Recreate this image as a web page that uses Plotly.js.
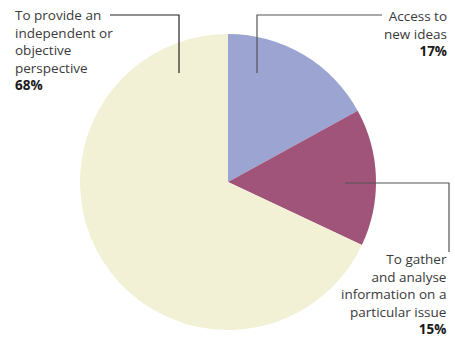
<!DOCTYPE html>
<html>
<head>
<meta charset="utf-8">
<script src="https://cdn.plot.ly/plotly-3.0.1.min.js"></script>
<style>html,body{margin:0;padding:0;background:#fff;}#chart{width:455px;height:339px;}</style>
</head>
<body>
<div id="chart"></div>
<script>
const categories = ["Access to new ideas", "To gather and analyse information on a particular issue", "To provide an independent or objective perspective"];
const values = [17, 15, 68];
const colors = ["#9ca4d2", "#a05479", "#f3f1d5"];
const labelLines = [
  ["Access to", "new ideas"],
  ["To gather", "and analyse", "information on a", "particular issue"],
  ["To provide an", "independent or", "objective", "perspective"]
];
const percentLabels = ["17%", "15%", "68%"];

const W = 455, H = 339;
const px = x => x / W;
const py = y => 1 - y / H;
const cx = 228, cy = 182, r = 148;

const trace = {
  type: "pie",
  labels: categories,
  values: values,
  sort: false,
  direction: "clockwise",
  rotation: 0,
  textinfo: "none",
  hoverinfo: "label+percent",
  marker: {colors: colors, line: {width: 0}},
  domain: {x: [px(cx - r), px(cx + r)], y: [py(cy + r), py(cy - r)]},
  showlegend: false
};

const font = {family: "Open Sans, Noto Sans, sans-serif", size: 13.5, color: "#3a3a3a"};

// block placement: x anchor px, vertical middle px
const blocks = [
  {x: 448, ym: 33, anchor: "right"},
  {x: 448, ym: 294, anchor: "right"},
  {x: 14, ym: 50, anchor: "left"}
];

const annotations = labelLines.map((lines, i) => ({
  xref: "paper", yref: "paper",
  x: px(blocks[i].x), y: py(blocks[i].ym),
  xanchor: blocks[i].anchor, yanchor: "middle", align: blocks[i].anchor,
  showarrow: false, borderpad: 0, font: font,
  text: lines.join("<br>") + "<br><b><span style='color:#1a1a1a'>" + percentLabels[i] + "</span></b>"
}));

const layout = {
  width: W, height: H,
  margin: {l: 0, r: 0, t: 0, b: 0},
  paper_bgcolor: "#ffffff",
  showlegend: false,
  font: font,
  annotations: annotations,
  shapes: [
    {type: "path", xref: "paper", yref: "paper", path: `M ${px(110)} ${py(15)} L ${px(179)} ${py(15)} L ${px(179)} ${py(73)}`, line: {color: "#222", width: 1.2}},
    {type: "path", xref: "paper", yref: "paper", path: `M ${px(382)} ${py(15)} L ${px(257)} ${py(15)} L ${px(257)} ${py(73)}`, line: {color: "#555", width: 1.2}},
    {type: "path", xref: "paper", yref: "paper", path: `M ${px(345)} ${py(183)} L ${px(449)} ${py(183)} L ${px(449)} ${py(252)}`, line: {color: "#555", width: 1.2}}
  ]
};

Plotly.newPlot("chart", [trace], layout, {displayModeBar: false, staticPlot: true});
</script>
</body>
</html>
